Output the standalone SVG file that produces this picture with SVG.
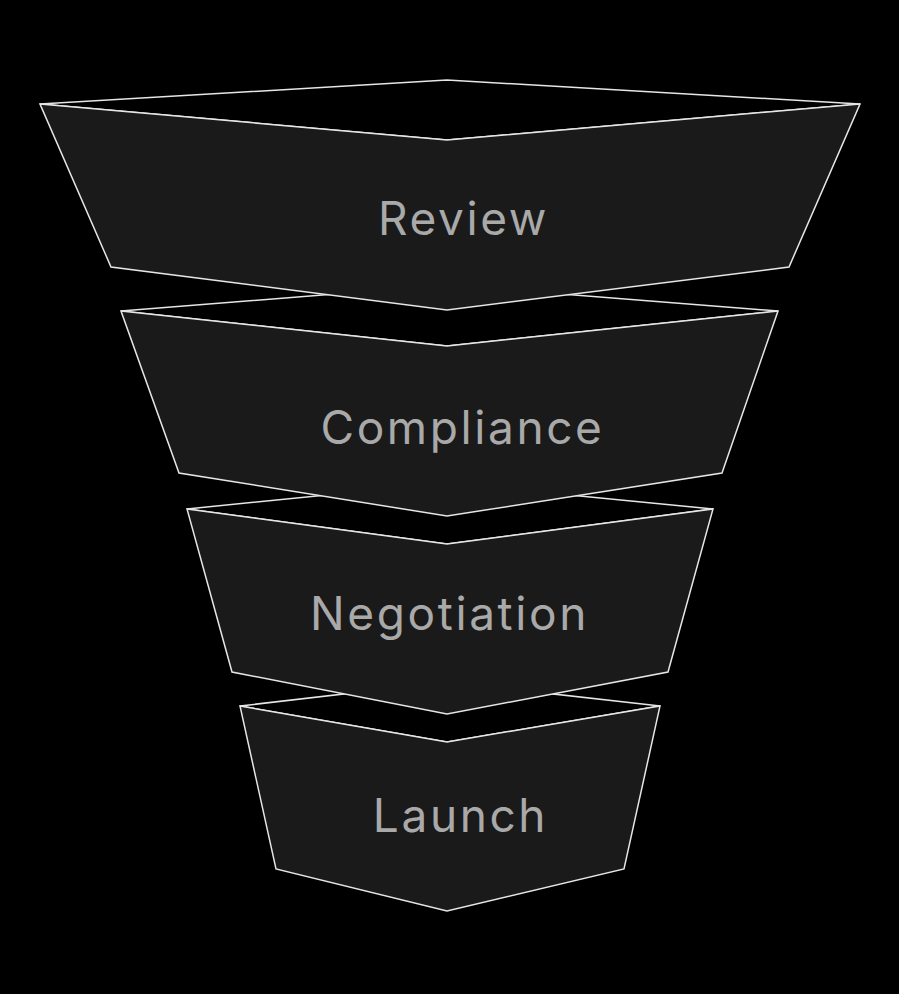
<svg xmlns="http://www.w3.org/2000/svg" width="899" height="994" viewBox="0 0 899 994">
  <style>
    .bg { fill: #000000; }
    .top { fill: #000000; stroke: #e6e6e6; stroke-width: 1.5; stroke-linejoin: miter; }
    .body { fill: #1a1a1a; stroke: #e6e6e6; stroke-width: 1.5; stroke-linejoin: miter; }
    .label { fill: #a9a9a9; font-family: Inter, "Noto Sans", "Liberation Sans", sans-serif; font-size: 46px; letter-spacing: 2.6px; text-anchor: middle; }
  </style>
  <rect class="bg" x="0" y="0" width="899" height="994"/>

  <g id="stage-launch">
    <polygon class="top" points="240,706 447,682 660,706 447,742"/>
    <polygon class="body" points="240,706 447,742 660,706 624,869 447,911 276,869"/>
    <text class="label" x="460.5" y="832">Launch</text>
  </g>

  <g id="stage-negotiation">
    <polygon class="top" points="187,509 447,483 713,509 447,544"/>
    <polygon class="body" points="187,509 447,544 713,509 668,672 447,714 232,672"/>
    <text class="label" x="449.5" y="630">Negotiation</text>
  </g>

  <g id="stage-compliance">
    <polygon class="top" points="121,311 447,285 778,311 447,346"/>
    <polygon class="body" points="121,311 447,346 778,311 722,473 447,516 179,473"/>
    <text class="label" x="462.5" y="444">Compliance</text>
  </g>

  <g id="stage-review">
    <polygon class="top" points="40,104 447,80 860,104 447,140"/>
    <polygon class="body" points="40,104 447,140 860,104 789,267 447,310 111,267"/>
    <text class="label" x="463.5" y="235">Review</text>
  </g>
</svg>
